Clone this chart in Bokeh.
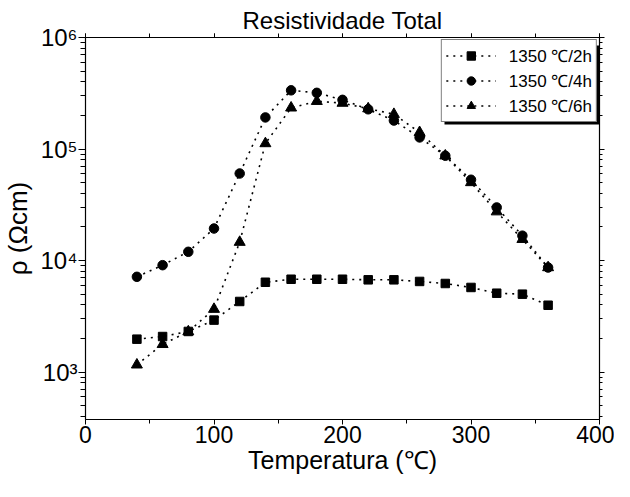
from bokeh.plotting import figure
from bokeh.models import (LinearAxis, LogAxis, Legend, LegendItem, BoxAnnotation,
                          SingleIntervalTicker, LogTicker)
from bokeh.embed import file_html
from bokeh.resources import INLINE

# ---- data ----
temps = [40, 60, 80, 100, 120, 140, 160, 180, 200, 220, 240, 260, 280, 300, 320, 340, 360]
rho_2h = [1970, 2080, 2310, 2920, 4290, 6380, 6790, 6790, 6790, 6710, 6710, 6490, 6220, 5730, 5090, 4990, 3970]
rho_4h = [7140, 9080, 11970, 19360, 60300, 191900, 336000, 319000, 276000, 227000, 180000, 127000, 87000, 53000, 29900, 16700, 8650]
rho_6h = [1160, 1770, 2300, 3660, 14600, 112000, 234000, 268000, 258000, 230000, 205000, 141000, 86900, 50100, 27400, 15500, 8650]
series_labels = ["1350 \u2103/2h", "1350 \u2103/4h", "1350 \u2103/6h"]
y_ticks = [1000, 10000, 100000, 1000000]
y_tick_labels = ["10\u00b3", "10\u2074", "10\u2075", "10\u2076"]
title_text = "Resistividade Total"
x_label = "Temperatura (\u2103)"
y_label = "\u03c1 (\u03a9cm)"

FONT = "Liberation Sans"

p = figure(width=614, height=481, x_range=(0, 400), y_range=(375, 1e6),
           y_axis_type="log", output_backend="svg", toolbar_location=None,
           min_border_left=84, min_border_right=15, min_border_top=37,
           min_border_bottom=62, background_fill_color="white",
           border_fill_color="white")
p.grid.visible = False
p.outline_line_color = None

p.title.text = title_text
p.title.align = "center"
p.title.text_font = FONT
p.title.text_font_style = "normal"
p.title.text_font_size = "24px"
p.title.text_color = "black"
p.title.standoff = 0


def style_axis(ax, labels=True):
    ax.axis_line_color = "black"
    ax.axis_line_width = 1.2
    ax.major_tick_line_color = "black"
    ax.minor_tick_line_color = "black"
    ax.major_tick_in = 0
    ax.major_tick_out = 6
    ax.minor_tick_in = 0
    ax.minor_tick_out = 4
    ax.major_label_text_font = FONT
    ax.major_label_text_color = "black"
    ax.axis_label_text_font = FONT
    ax.axis_label_text_font_style = "normal"
    ax.axis_label_text_color = "black"
    if not labels:
        ax.major_label_text_font_size = "1px"
        ax.major_label_text_color = None
        ax.major_label_standoff = 0


# bottom axis
xa = p.xaxis[0]
xa.ticker = SingleIntervalTicker(interval=100, num_minor_ticks=2)
style_axis(xa)
xa.major_tick_out = 5
xa.major_label_text_font_size = "23px"
xa.major_label_standoff = 1
xa.axis_label = x_label
xa.axis_label_text_font_size = "25px"
xa.axis_label_standoff = 0

# left axis
ya = p.yaxis[0]
ya.ticker = LogTicker(num_minor_ticks=10)
style_axis(ya)
ya.major_tick_out = 7
ya.minor_tick_out = 5
ya.major_label_overrides = {t: l for t, l in zip(y_ticks, y_tick_labels)}
ya.major_label_text_font_size = "24px"
ya.major_label_standoff = 1
ya.axis_label = y_label
ya.axis_label_text_font_size = "26px"
ya.axis_label_standoff = 4

# mirror axes
top = LinearAxis(ticker=SingleIntervalTicker(interval=100, num_minor_ticks=2))
style_axis(top, labels=False)
top.major_tick_out = 4
p.add_layout(top, "above")
right = LogAxis(ticker=LogTicker(num_minor_ticks=10))
style_axis(right, labels=False)
right.major_tick_out = 5
right.minor_tick_out = 3
p.add_layout(right, "right")

# series
markers = ["square", "circle", "triangle"]
sizes = [8.5, 9.5, 11]
items = []
for vals, mk, sz, lab in zip([rho_2h, rho_4h, rho_6h], markers, sizes, series_labels):
    ln = p.line(temps, vals, line_color="black", line_width=1.6, line_dash="2 5")
    sc = p.scatter(temps, vals, marker=mk, size=sz, fill_color="black", line_color="black")
    items.append(LegendItem(label=lab, renderers=[ln, sc]))

# legend shadow (decoration, offset below/right of the legend box)
shadow = BoxAnnotation(left=444, right=602, top=45, bottom=124,
                       left_units="canvas", right_units="canvas",
                       top_units="canvas", bottom_units="canvas",
                       fill_color="black", fill_alpha=1, line_color=None)
p.add_layout(shadow)

legend = Legend(items=items, location="top_right", margin=2,
                border_line_color="black", border_line_width=1,
                background_fill_color="white", background_fill_alpha=1,
                label_text_font=FONT, label_text_font_size="17px",
                label_text_color="black", padding=4, spacing=2,
                label_height=21, glyph_height=21, glyph_width=50,
                label_standoff=13)
p.add_layout(legend)

open("out.html", "w").write(file_html(p, INLINE))
